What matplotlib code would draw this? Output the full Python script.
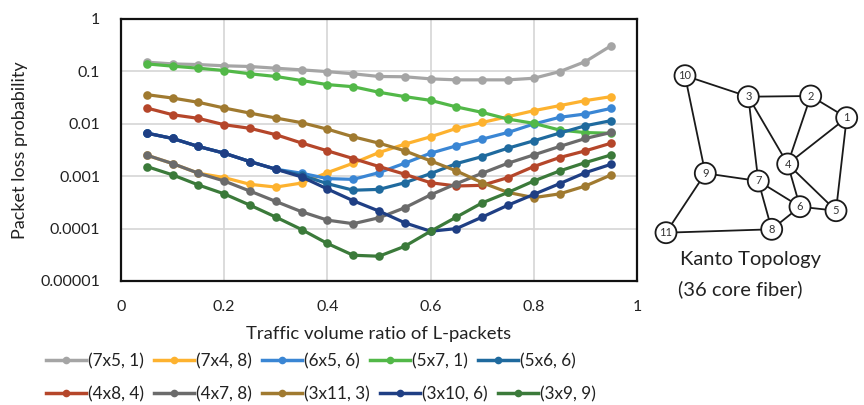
import matplotlib
matplotlib.use("Agg")
import matplotlib.pyplot as plt
from matplotlib.patches import Circle
from matplotlib.lines import Line2D

plt.rcParams['font.family'] = ['Lato', 'DejaVu Sans']

# ---------------- data ----------------
x_ratio = [0.05, 0.10, 0.15, 0.20, 0.25, 0.30, 0.35, 0.40, 0.45, 0.50,
           0.55, 0.60, 0.65, 0.70, 0.75, 0.80, 0.85, 0.90, 0.95]

labels = ["(7x5, 1)", "(7x4, 8)", "(6x5, 6)", "(5x7, 1)", "(5x6, 6)",
          "(4x8, 4)", "(4x7, 8)", "(3x11, 3)", "(3x10, 6)", "(3x9, 9)"]

s_7x5_1 = [0.150, 0.139, 0.135, 0.128, 0.124, 0.115, 0.107, 0.099, 0.090, 0.080,
           0.079, 0.072, 0.069, 0.069, 0.069, 0.074, 0.099, 0.154, 0.31]
s_7x4_8 = [0.00252, 0.00174, 0.00114, 0.00094, 0.00070, 0.00062, 0.00074, 0.00117, 0.00177, 0.00283,
           0.00409, 0.00565, 0.00817, 0.0106, 0.0137, 0.0178, 0.0222, 0.0277, 0.033]
s_6x5_6 = [0.00664, 0.00525, 0.00369, 0.00275, 0.00190, 0.00136, 0.00114, 0.00090, 0.00087, 0.00117,
           0.00177, 0.00275, 0.0038, 0.0051, 0.00684, 0.0099, 0.0133, 0.0154, 0.0197]
s_5x7_1 = [0.139, 0.126, 0.115, 0.104, 0.090, 0.080, 0.067, 0.056, 0.051, 0.040,
           0.033, 0.028, 0.021, 0.0165, 0.0123, 0.0102, 0.0076, 0.0068, 0.0066]
s_5x6_6 = [0.00664, 0.00525, 0.00369, 0.00275, 0.00190, 0.00136, 0.00104, 0.00072, 0.00054, 0.00056,
           0.00075, 0.00112, 0.00174, 0.00237, 0.00343, 0.00474, 0.00664, 0.00918, 0.0115]
s_4x8_4 = [0.0200, 0.0149, 0.0127, 0.0096, 0.0082, 0.0062, 0.0043, 0.00305, 0.00217, 0.00153,
           0.00109, 0.00075, 0.00065, 0.00067, 0.00094, 0.00153, 0.00227, 0.00305, 0.00427]
s_4x7_8 = [0.00252, 0.00174, 0.00114, 0.00081, 0.00052, 0.00033, 0.00021, 0.000145, 0.000124, 0.000161,
           0.00025, 0.00044, 0.00072, 0.00114, 0.00177, 0.00255, 0.00369, 0.00525, 0.00684]
s_3x11_3 = [0.036, 0.031, 0.0257, 0.020, 0.016, 0.0129, 0.0105, 0.0079, 0.00565, 0.00427,
            0.00305, 0.00196, 0.00126, 0.00075, 0.00049, 0.00039, 0.00046, 0.00065, 0.00106]
s_3x10_6 = [0.00664, 0.00525, 0.00369, 0.00275, 0.00190, 0.00136, 0.00097, 0.00057, 0.00034, 0.000216,
            0.000129, 0.000089, 0.000100, 0.000166, 0.00028, 0.00045, 0.00072, 0.00117, 0.00169]
s_3x9_9 = [0.00153, 0.00106, 0.00068, 0.00046, 0.00028, 0.000166, 0.000096, 0.000052, 0.000031, 0.0000297,
           0.000046, 0.000089, 0.000166, 0.00031, 0.00049, 0.00081, 0.00126, 0.00182, 0.00255]

series = [s_7x5_1, s_7x4_8, s_6x5_6, s_5x7_1, s_5x6_6,
          s_4x8_4, s_4x7_8, s_3x11_3, s_3x10_6, s_3x9_9]
colors = ["#A5A5A5", "#FDB22F", "#3A86D4", "#52B848", "#1F6A9E",
          "#B5462A", "#6B6B6B", "#A07A30", "#1F3F84", "#3B7A3A"]

x_ticks = [0, 0.2, 0.4, 0.6, 0.8, 1]
x_tick_labels = ["0", "0.2", "0.4", "0.6", "0.8", "1"]
y_ticks = [1, 0.1, 0.01, 0.001, 0.0001, 0.00001]
y_tick_labels = ["1", "0.1", "0.01", "0.001", "0.0001", "0.00001"]

# topology
node_names = ["1", "2", "3", "4", "5", "6", "7", "8", "9", "10", "11"]
node_pos = {"1": (846.7, 117.7), "2": (810.7, 96.0), "3": (748.3, 96.7),
            "4": (787.7, 164.0), "5": (836.0, 210.7), "6": (800.0, 206.7),
            "7": (758.3, 181.0), "8": (771.7, 229.3), "9": (705.3, 173.3),
            "10": (685.0, 75.7), "11": (666.0, 232.7)}
edges = [("10", "3"), ("10", "9"), ("3", "2"), ("3", "7"), ("3", "4"),
         ("2", "4"), ("2", "1"), ("1", "4"), ("1", "5"), ("4", "6"),
         ("4", "5"), ("9", "7"), ("9", "11"), ("7", "6"), ("7", "8"),
         ("6", "5"), ("6", "8"), ("11", "8")]

# ---------------- figure ----------------
W, H = 864, 405
fig = plt.figure(figsize=(W / 100, H / 100), dpi=100)
ax = fig.add_axes([121 / W, 1 - 281 / H, (637 - 121) / W, (281 - 19) / H])

for vals, lab, col in zip(series, labels, colors):
    ax.plot(x_ratio, vals, color=col, lw=2.3, marker='o', ms=6.2,
            markeredgewidth=0, label=lab, solid_capstyle='round')

ax.set_yscale('log')
ax.set_xlim(0, 1)
ax.set_ylim(1e-5, 1)
ax.set_xticks(x_ticks)
ax.set_xticklabels(x_tick_labels)
ax.set_yticks(y_ticks)
ax.set_yticklabels(y_tick_labels)
ax.yaxis.set_minor_locator(matplotlib.ticker.NullLocator())
ax.tick_params(axis='both', length=0, labelsize=11.5, colors='#222222')
ax.tick_params(axis='x', pad=14)
ax.tick_params(axis='y', pad=15)
ax.grid(True, color='#D6D6D6', lw=1.2)
ax.set_axisbelow(True)
for sp in ax.spines.values():
    sp.set_color('#111111')
    sp.set_linewidth(1.6)
ax.set_xlabel("Traffic volume ratio of L-packets", fontsize=13.3, labelpad=8, color='#222222')
ax.set_ylabel("Packet loss probability", fontsize=13, labelpad=9, color='#222222')

# legend: two independent rows
rows = [[0, 1, 2, 3, 4], [5, 6, 7, 8, 9]]
row_y = [361, 394]
for idxs, yy in zip(rows, row_y):
    hs = [Line2D([0], [0], color=colors[i], lw=2.5, marker='o', ms=5.5,
                 markeredgewidth=0) for i in idxs]
    ls = [labels[i] for i in idxs]
    lg = fig.legend(hs, ls, loc='center left', bbox_to_anchor=(46 / W, 1 - yy / H),
                    ncol=5, frameon=False, fontsize=12.3, handlelength=2.35,
                    handletextpad=0.1, columnspacing=0.6, borderaxespad=0,
                    borderpad=0)
    for t in lg.get_texts():
        t.set_color('#222222')

# topology overlay
tax = fig.add_axes([0, 0, 1, 1])
tax.set_xlim(0, W)
tax.set_ylim(H, 0)
tax.axis('off')
for a, b in edges:
    (x1, y1), (x2, y2) = node_pos[a], node_pos[b]
    tax.plot([x1, x2], [y1, y2], color='#1a1a1a', lw=1.3, zorder=1)
for n in node_names:
    x, y = node_pos[n]
    tax.add_patch(Circle((x, y), 10.5, facecolor='white', edgecolor='#1a1a1a',
                         lw=1.3, zorder=2))
    tax.text(x, y, n, ha='center', va='center', fontsize=8, color='#333333', zorder=3)
tax.text(750, 260, "Kanto Topology", ha='center', va='center', fontsize=14.5, color='#222222')
tax.text(678, 289, "(36 core fiber)", ha='left', va='center', fontsize=14.5, color='#222222')

fig.savefig("out.png", dpi=100)
